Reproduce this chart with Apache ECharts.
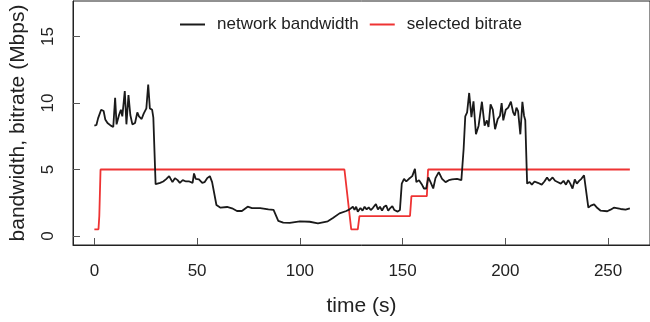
<!DOCTYPE html>
<html>
<head>
<meta charset="utf-8">
<script src="https://cdn.jsdelivr.net/npm/echarts@6/dist/echarts.min.js"></script>
<style>html,body{margin:0;padding:0;background:#fff}#c{width:650px;height:322px}</style>
</head>
<body>
<div id="c"></div>
<script>
var bwTime = [0,1,1.8,3.3,4.5,5.3,6.4,8,9.2,10.1,10.8,12,12.9,13.6,14.8,15.6,16.6,17.5,18.5,19.8,20.9,21.7,23,24,25.3,26.2,27,28.1,28.7,29.8,30.6,
  32,33.5,34.8,36.4,38,39.2,40.5,41.6,43,44.6,46.2,47.8,48.5,49.3,50.9,52.5,53.6,54.9,56.2,57.3,58.1,59.4,61.4,64.6,67,69.4,71.8,74.6,76.7,80.7,84.7,87.2,
  89.5,91.9,95.1,100,104.8,108.8,113.6,116.1,119.3,122.6,124.2,125.8,126.6,127.4,128.2,129.5,130.5,131.5,132.5,133.5,134.5,135.5,137,138,139,140,141,142,143,144,145,146,147.6,148.7,
  149.6,150.7,151.8,153.1,154.7,156,156.7,158,159.3,160.4,161.5,162.5,163.6,164.9,166,167.6,169.2,170.9,172.5,174.1,176.5,178.6,
  179.7,180.5,181.4,182.4,183.5,184.5,185.7,187,188.6,189.9,191,191.8,192.8,193.9,195,196.3,197.4,198.2,199,200.2,201.4,202.7,203.8,204.6,205.4,206.2,207.3,208.3,209.1,209.7,
  210.6,211.8,212.9,214.2,215.8,217.7,219,220.3,221.4,223,224.2,225.4,227,228.3,229.5,230.6,231.6,232.7,233.8,234.8,235.9,237,238.3,
  240.4,241.6,243.2,244.8,246.4,249.6,251.2,252.8,256.1,258.5,260.6];
var bwValue = [8.3,8.35,8.85,9.5,9.4,8.77,8.5,8.3,8.2,10.4,8.4,9.1,9.5,9.0,10.9,8.4,10.6,9.1,8.4,8.5,9.3,9.0,8.8,9.2,9.6,11.4,9.6,9.5,8.9,3.9,3.9,
  4.0,4.1,4.26,4.5,4.05,4.35,4.2,4.0,4.2,4.1,4.1,4.0,4.7,4.3,4.25,4.0,4.05,4.35,4.5,4.05,4.2,2.33,2.13,2.18,2.08,1.88,1.88,2.2,2.1,2.1,2.0,1.96,
  1.14,1.0,0.98,1.1,1.07,0.95,1.1,1.35,1.7,1.88,2.0,2.2,1.96,2.2,1.83,2.1,1.9,2.2,2.0,2.15,1.95,2.1,2.4,2.0,2.2,1.9,2.2,2.3,1.9,2.1,2.25,1.95,1.83,1.96,
  3.94,4.3,4.1,4.3,4.5,5.05,4.05,4.2,3.9,3.57,3.57,4.4,4.05,3.57,4.35,4.8,4.3,4.05,4.2,4.25,4.3,4.2,
  6.54,9.0,9.3,10.76,8.94,10.13,7.65,8.3,10.1,8.3,8.7,8.2,9.9,9.5,8.03,8.8,9.05,10.0,8.7,9.5,9.66,10.1,9.3,9.05,9.66,9.4,7.65,10.1,9.05,8.7,
  3.94,4.06,3.86,4.1,4.0,3.86,4.1,4.4,4.15,4.4,4.15,4.06,3.94,4.15,3.86,4.2,3.94,3.57,4.25,3.94,4.15,4.3,4.56,
  2.13,2.28,2.38,2.1,1.9,1.86,1.98,2.13,2.03,1.98,2.08];
var brTime = [0,2,2.4,3,121.7,125,128.2,129,153.6,154.3,161.8,162.4,260.6];
var brValue = [0.5,0.5,1.5,5,5,0.5,0.5,1.5,1.5,3,3,5,5];
var xTicks = [0,50,100,150,200,250];
var yTicks = [0,5,10,15];

function pairs(t, v){ return t.map(function(x,i){ return [x, v[i]]; }); }

var font = 'Liberation Sans, Arial, sans-serif';
var chart = echarts.init(document.getElementById('c'), null, {renderer:'canvas'});
chart.setOption({
  animation:false,
  backgroundColor:'#fff',
  grid:{left:72, top:1, width:581, bottom:74, show:true, borderColor:'#222', borderWidth:1, backgroundColor:'transparent'},
  legend:{
    left:175, top:11, itemWidth:25, itemHeight:2, itemGap:11, icon:'rect',
    textStyle:{fontFamily:font, fontSize:17, color:'#222', padding:[0,0,0,7]},
    data:['network bandwidth','selected bitrate']
  },
  xAxis:{
    type:'value', min:-10.4, max:270.4,
    name:'time (s)', nameLocation:'middle', nameGap:51,
    nameTextStyle:{fontFamily:font, fontSize:21, color:'#222'},
    axisLine:{show:true, onZero:false, lineStyle:{color:'#222', width:1}},
    axisTick:{show:true, inside:true, length:7, customValues:xTicks, lineStyle:{color:'#555'}},
    axisLabel:{customValues:xTicks, fontFamily:font, fontSize:17, color:'#222', margin:18},
    splitLine:{show:false}
  },
  yAxis:{
    type:'value', min:-0.68, max:17.68,
    name:'bandwidth, bitrate (Mbps)', nameLocation:'middle', nameGap:44,
    nameTextStyle:{fontFamily:font, fontSize:21, color:'#222'},
    axisLine:{show:true, onZero:false, lineStyle:{color:'#222', width:1}},
    axisTick:{show:true, inside:true, length:7, customValues:yTicks, lineStyle:{color:'#555'}},
    axisLabel:{customValues:yTicks, rotate:90, fontFamily:font, fontSize:17, color:'#222', margin:16},
    splitLine:{show:false}
  },
  series:[
    {name:'network bandwidth', type:'line', data:pairs(bwTime,bwValue), showSymbol:false, symbol:'none',
     color:'#1a1a1a', lineStyle:{color:'#1a1a1a', width:1.8}, z:3},
    {name:'selected bitrate', type:'line', data:pairs(brTime,brValue), showSymbol:false, symbol:'none',
     color:'#ee3333', lineStyle:{color:'#ee3333', width:1.8}, z:2}
  ]
});
</script>
</body>
</html>
